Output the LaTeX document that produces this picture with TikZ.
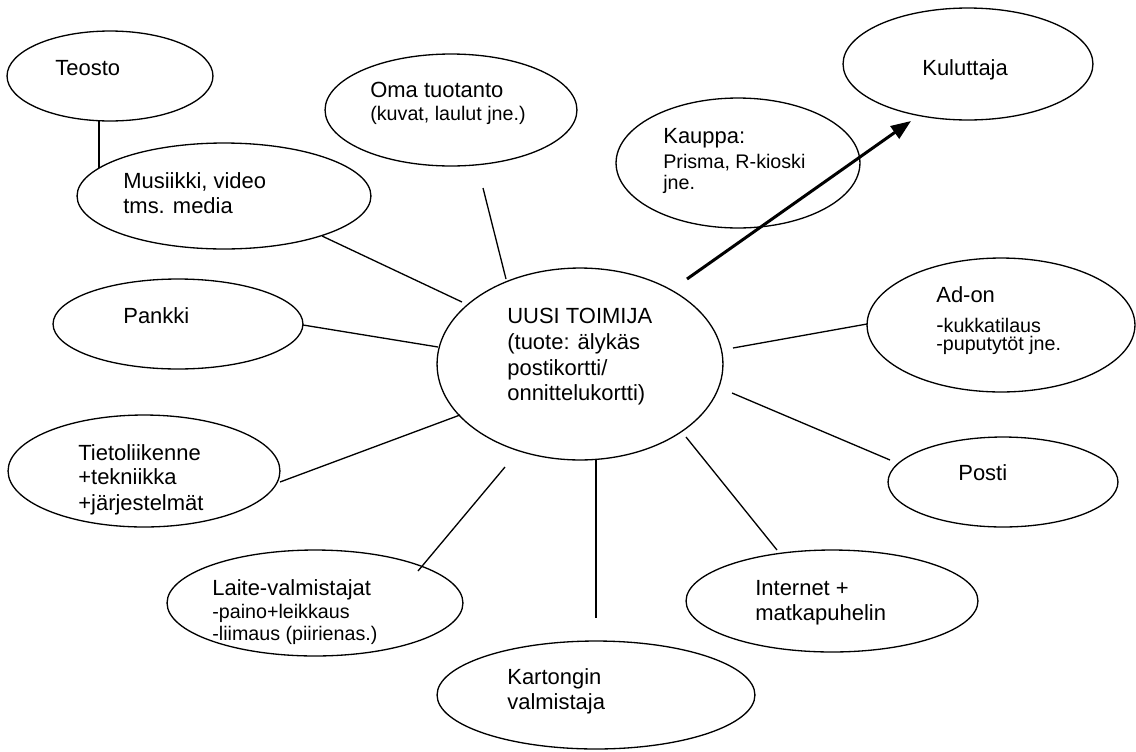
\documentclass[tikz,border=0pt]{standalone}
\usepackage{fontspec}
\setmainfont{Liberation Sans}
\usetikzlibrary{shapes.geometric,arrows.meta}
\newcommand\mainsz{\fontsize{12.5pt}{15pt}\selectfont}
\newcommand\smallsz{\fontsize{11.2pt}{13pt}\selectfont}
\begin{document}
\begin{tikzpicture}[x=0.02cm,y=-0.02cm,
  bubble/.style 2 args={draw, ellipse, line width=0.75pt, inner sep=0pt,
    minimum width=#1*0.04cm, minimum height=#2*0.04cm},
  txt/.style={anchor=base west, inner sep=0pt, font=\mainsz},
  stxt/.style={anchor=base west, inner sep=0pt, font=\smallsz},
  link/.style={line width=0.75pt},
  flow/.style={line width=1.7pt, -{Triangle[length=0.4cm,width=0.3cm]}}]
\useasboundingbox (0,0) rectangle (1136,751);

% bubbles
\node[bubble={103}{45}] (teosto) at (110,76) {};
\node[bubble={147}{53}] (musiikki) at (224,196) {};
\node[bubble={126}{56}] (oma) at (451,110) {};
\node[bubble={122}{65}] (kauppa) at (738,163) {};
\node[bubble={125}{56}] (kuluttaja) at (968,64) {};
\node[bubble={143}{96}] (hub) at (580,364) {};
\node[bubble={125}{45}] (pankki) at (178,324) {};
\node[bubble={134}{67}] (adon) at (1001,325) {};
\node[bubble={136}{56}] (tieto) at (144,471) {};
\node[bubble={115}{45}] (posti) at (1003,482) {};
\node[bubble={148}{53}] (laite) at (315,603) {};
\node[bubble={159}{54}] (kartonki) at (596,695) {};
\node[bubble={146}{51}] (internet) at (832,601) {};

% labels
\node[txt] (teosto-t) at (55,75) {Teosto};
\node[txt] (musiikki-t1) at (123,188) {Musiikki, video};
\node[txt] (musiikki-t2) at (123,213) {tms. media};
\node[txt] (oma-t1) at (370,97) {Oma tuotanto};
\node[stxt] (oma-t2) at (370,120) {(kuvat, laulut jne.)};
\node[txt] (kauppa-t1) at (663,143) {Kauppa:};
\node[stxt] (kauppa-t2) at (663,168) {Prisma, R-kioski};
\node[stxt] (kauppa-t3) at (663,189) {jne.};
\node[txt] (kuluttaja-t) at (922,75) {Kuluttaja};
\node[txt] (hub-t1) at (507,323) {UUSI TOIMIJA};
\node[txt] (hub-t2) at (507,349) {(tuote: älykäs};
\node[txt] (hub-t3) at (507,375) {postikortti/};
\node[txt] (hub-t4) at (507,400) {onnittelukortti)};
\node[txt] (pankki-t) at (123,323) {Pankki};
\node[txt] (adon-t1) at (936,302) {Ad-on};
\node[txt] (adon-t2) at (936,332) {-{\smallsz kukkatilaus}};
\node[stxt] (adon-t3) at (936,350) {-puputytöt jne.};
\node[txt] (tieto-t1) at (78,460) {Tietoliikenne};
\node[txt] (tieto-t2) at (78,484) {+tekniikka};
\node[txt] (tieto-t3) at (78,510) {+järjestelmät};
\node[txt] (posti-t) at (958,480) {Posti};
\node[txt] (laite-t1) at (212,595) {Laite-valmistajat};
\node[stxt] (laite-t2) at (212,618) {-paino+leikkaus};
\node[stxt] (laite-t3) at (212,640) {-liimaus (piirienas.)};
\node[txt] (kartonki-t1) at (507,684) {Kartongin};
\node[txt] (kartonki-t2) at (507,709) {valmistaja};
\node[txt] (internet-t1) at (755,595) {Internet +};
\node[txt] (internet-t2) at (755,620) {matkapuhelin};

% connector ends
\coordinate (teosto-e) at (99,121);
\coordinate (musiikki-up) at (99,168);
\coordinate (musiikki-e) at (322,236);
\coordinate (hub-musiikki) at (462,302);
\coordinate (oma-e) at (483,188);
\coordinate (hub-oma) at (506,279);
\coordinate (pankki-e) at (303,325);
\coordinate (hub-pankki) at (438,347);
\coordinate (tieto-e) at (280,482);
\coordinate (hub-tieto) at (460,415);
\coordinate (laite-e) at (418,571);
\coordinate (hub-laite) at (505,467);
\coordinate (hub-kartonki) at (596,460);
\coordinate (kartonki-e) at (596,618);
\coordinate (hub-internet) at (686,437);
\coordinate (internet-e) at (777,550);
\coordinate (hub-posti) at (732,393);
\coordinate (posti-e) at (890,460);
\coordinate (hub-adon) at (733,348);
\coordinate (adon-e) at (867,324);
\coordinate (hub-kuluttaja) at (687,279);
\coordinate (kuluttaja-e) at (911,121);

% connectors
\draw[link] (teosto-e) -- (musiikki-up);
\draw[link] (musiikki-e) -- (hub-musiikki);
\draw[link] (oma-e) -- (hub-oma);
\draw[link] (pankki-e) -- (hub-pankki);
\draw[link] (tieto-e) -- (hub-tieto);
\draw[link] (laite-e) -- (hub-laite);
\draw[link] (hub-kartonki) -- (kartonki-e);
\draw[link] (hub-internet) -- (internet-e);
\draw[link] (hub-posti) -- (posti-e);
\draw[link] (hub-adon) -- (adon-e);
\draw[flow] (hub-kuluttaja) -- (kuluttaja-e);
\end{tikzpicture}
\end{document}
